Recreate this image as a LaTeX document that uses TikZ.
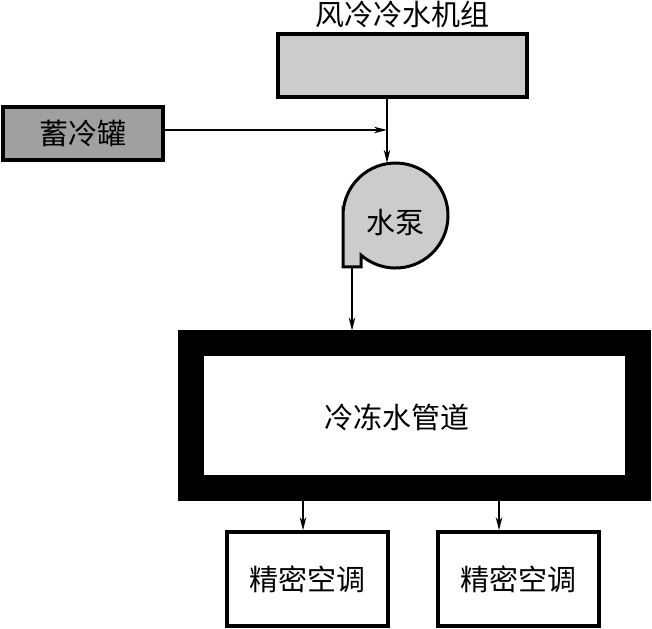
\documentclass[tikz,border=0pt]{standalone}
\usepackage{fontspec}
\usepackage{tikz}
\usetikzlibrary{arrows.meta, positioning, calc}
\newfontfamily\cjk{Noto Sans CJK SC}
\definecolor{unitgray}{RGB}{204, 204, 204}
\definecolor{tankgray}{RGB}{160, 160, 160}

\begin{document}
\begin{tikzpicture}[
    x=1pt, y=1pt,
    every node/.style={font=\cjk\fontsize{29}{32}\selectfont},
    unitbox/.style={rectangle, draw=black, line width=3.5pt, fill=unitgray,
                    minimum width=249, minimum height=63},
    tankbox/.style={rectangle, draw=black, line width=3.5pt, fill=tankgray,
                    minimum width=160, minimum height=53},
    pipebox/.style={rectangle, draw=black, line width=26pt, fill=white,
                    minimum width=447, minimum height=145},
    acbox/.style={rectangle, draw=black, line width=3.5pt, fill=white,
                  minimum width=161, minimum height=94},
    pumpline/.style={draw=black, line width=3pt, fill=unitgray},
    arrow/.style={-{Stealth[length=13pt, width=6.5pt, inset=4pt]}, line width=1.3pt},
    pipe/.style={line width=1.3pt},
]
    \useasboundingbox (0,0) rectangle (652,628);

    % sources
    \node[unitbox] (chiller) at (402.5,562.5) {};
    \node[above=1pt of chiller] (chillertext) {风冷冷水机组};
    \node[tankbox] (tank) at (83,494.5) {蓄冷罐};

    % pump body with outlet
    \filldraw[pumpline] (343,412.5) -- (343,361) -- (361,361) -- (361,372.9)
        arc[start angle=228.9, end angle=540, radius=52.5] -- cycle;
    \node[circle, minimum size=105] (pump) at (395.5,412.5) {};
    \node at (395.5,405) (pumptext) {水泵};
    \coordinate (join) at (387,498);
    \coordinate (outlet) at (352,361);

    % distribution
    \node[pipebox] (pipeline) at (414.5,212) {};
    \node (pipetext) at (397,211) {冷冻水管道};
    \node[acbox] (acleft) at (307.5,49) {精密空调};
    \node[acbox] (acright) at (518.5,49) {精密空调};
    \coordinate (tapleft) at (303,112);
    \coordinate (tapright) at (499,112);

    % arrows
    \draw[pipe] (chiller.south -| join) -- (join);
    \draw[arrow] (tank.east |- join) -- (join);
    \draw[arrow] (join) -- (join |- pump.north);
    \draw[arrow] (outlet) -- (outlet |- pipeline.north);
    \draw[arrow] (pipeline.south -| tapleft) -- (acleft.north -| tapleft);
    \draw[arrow] (pipeline.south -| tapright) -- (acright.north -| tapright);
\end{tikzpicture}
\end{document}
